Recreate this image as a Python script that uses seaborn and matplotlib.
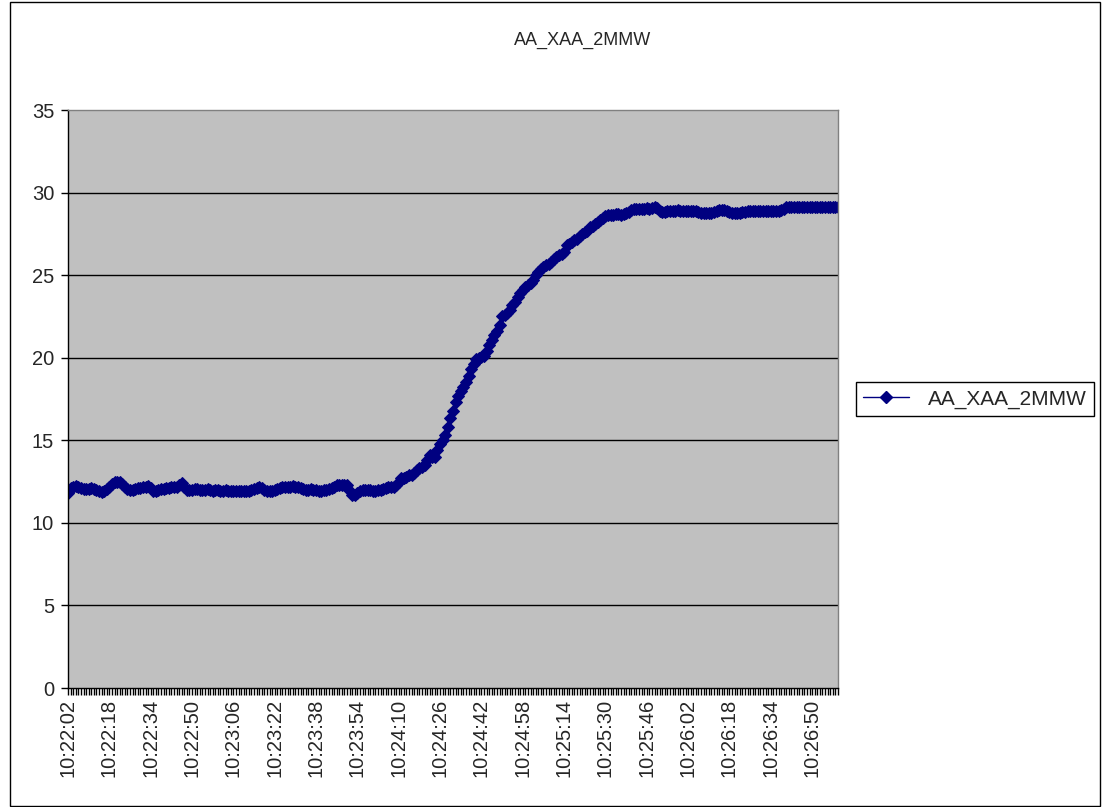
import matplotlib
matplotlib.use("Agg")
import matplotlib.pyplot as plt
from matplotlib.patches import Rectangle
import numpy as np
import pandas as pd
import seaborn as sns

# Series name and sampling
series_name = "AA_XAA_2MMW"
start_time = "10:22:02"
label_step = 16  # one labelled tick every 16 samples

# Readings, one per second (16 samples per row)
values = [
    11.8, 12.1, 12.2, 12.25, 12.2, 12.1, 12.05, 12.05, 12.05, 12.1, 12.05, 12.0, 11.9, 11.85, 11.9, 12.05,
    12.2, 12.35, 12.5, 12.5, 12.45, 12.35, 12.2, 12.05, 12.0, 12.0, 12.05, 12.1, 12.1, 12.15, 12.2, 12.25,
    12.1, 11.95, 11.95, 12.0, 12.05, 12.05, 12.1, 12.1, 12.15, 12.2, 12.2, 12.3, 12.4, 12.2, 12.0, 12.0,
    12.0, 12.05, 12.05, 12.0, 12.0, 12.0, 12.05, 12.0, 11.95, 12.0, 12.0, 11.9, 11.95, 12.0, 11.95, 11.95,
    11.95, 11.9, 11.95, 11.95, 11.95, 11.95, 11.95, 12.0, 12.05, 12.1, 12.15, 12.1, 12.0, 11.95, 11.9, 11.95,
    12.0, 12.05, 12.1, 12.15, 12.2, 12.2, 12.2, 12.25, 12.2, 12.2, 12.1, 12.05, 12.0, 12.0, 12.05, 12.0,
    12.0, 11.95, 11.95, 12.0, 12.0, 12.05, 12.1, 12.2, 12.3, 12.3, 12.3, 12.3, 12.3, 11.9, 11.7, 11.7,
    11.8, 11.9, 12.0, 12.0, 12.0, 12.0, 11.95, 11.95, 12.0, 12.0, 12.05, 12.1, 12.2, 12.2, 12.2, 12.3,
    12.5, 12.7, 12.7, 12.8, 12.9, 12.9, 13.0, 13.2, 13.3, 13.4, 13.5, 13.8, 14.1, 14.0, 14.0, 14.4,
    14.8, 15.0, 15.3, 15.8, 16.35, 16.8, 17.3, 17.7, 18.0, 18.2, 18.5, 18.9, 19.3, 19.6, 19.9, 20.0,
    20.05, 20.1, 20.4, 20.8, 21.1, 21.4, 21.6, 22.0, 22.5, 22.6, 22.7, 22.9, 23.2, 23.4, 23.7, 23.9,
    24.1, 24.3, 24.4, 24.5, 24.7, 25.0, 25.2, 25.4, 25.5, 25.6, 25.7, 25.8, 26.0, 26.1, 26.2, 26.3,
    26.4, 26.8, 26.9, 27.0, 27.1, 27.2, 27.4, 27.5, 27.6, 27.7, 27.9, 28.0, 28.1, 28.2, 28.35, 28.45,
    28.6, 28.65, 28.65, 28.65, 28.7, 28.7, 28.65, 28.7, 28.75, 28.85, 28.95, 29.0, 29.0, 29.0, 29.0, 29.0,
    29.05, 29.0, 29.05, 29.15, 29.05, 28.9, 28.8, 28.85, 28.9, 28.9, 28.9, 28.9, 28.95, 28.9, 28.9, 28.9,
    28.9, 28.9, 28.9, 28.9, 28.85, 28.75, 28.75, 28.75, 28.75, 28.75, 28.8, 28.9, 28.95, 28.95, 28.95, 28.9,
    28.85, 28.75, 28.75, 28.75, 28.75, 28.8, 28.85, 28.9, 28.9, 28.9, 28.9, 28.9, 28.9, 28.9, 28.9, 28.9,
    28.9, 28.9, 28.9, 28.9, 28.95, 29.0, 29.1, 29.1, 29.1, 29.1, 29.1, 29.1, 29.1, 29.1, 29.1, 29.1,
    29.1, 29.1, 29.1, 29.1, 29.1, 29.1, 29.1, 29.1, 29.1, 29.1, 29.1,
]

y_ticks = [0, 5, 10, 15, 20, 25, 30, 35]

times = pd.date_range(pd.Timestamp("2000-01-01 " + start_time), periods=len(values), freq="s")
time_labels = [t.strftime("%H:%M:%S") for t in times]

df = pd.DataFrame({"idx": np.arange(len(values)), "value": values, "series": series_name})

sns.set_style("white")
plt.rcParams["font.family"] = ["Liberation Sans", "DejaVu Sans"]

W, H = 1102, 807
fig = plt.figure(figsize=(W / 100, H / 100), dpi=100)
ax = fig.add_axes([68 / W, 1 - 688 / H, (838 - 68) / W, (688 - 110) / H])
ax.set_facecolor("#C0C0C0")

sns.lineplot(data=df, x="idx", y="value", hue="series", palette=["#000080"],
             marker="D", markersize=6.5, markeredgecolor="#000080", linewidth=1,
             ax=ax, legend=False)

ax.set_xlim(0, len(values) - 1)
ax.set_ylim(0, 35)
ax.set_yticks(y_ticks)
ax.set_yticklabels([str(v) for v in y_ticks], fontsize=14.5)
for v in y_ticks[1:-1]:
    ax.axhline(v, color="#000000", linewidth=1, zorder=0.5)

major = list(range(0, len(values), label_step))
ax.set_xticks(major)
ax.set_xticklabels([time_labels[i] for i in major], rotation=90, fontsize=14.5)
ax.set_xticks(range(len(values)), minor=True)
ax.tick_params(axis="x", which="both", bottom=True, direction="out", length=5,
               width=1, color="#000000", pad=3)
ax.tick_params(axis="y", left=True, direction="out", length=5, width=1,
               color="#000000", pad=5)
ax.set_xlabel("")
ax.set_ylabel("")

for side in ["top", "right"]:
    ax.spines[side].set_color("#808080")
    ax.spines[side].set_linewidth(1)
for side in ["left", "bottom"]:
    ax.spines[side].set_color("#000000")
    ax.spines[side].set_linewidth(1)

fig.text(583 / W, 1 - 40 / H, series_name, ha="center", va="center", fontsize=13)

handle = plt.Line2D([], [], color="#000080", marker="D", markersize=6.5, linewidth=1)
leg = fig.legend([handle], [series_name], loc="center left",
                 bbox_to_anchor=(856 / W, 1 - 399 / H), fontsize=15,
                 frameon=True, fancybox=False, framealpha=1, edgecolor="#000000",
                 handlelength=2.2, handletextpad=0.9, borderpad=0.35,
                 borderaxespad=0)
leg.get_frame().set_linewidth(1)

fig.patches.append(Rectangle((10 / W, 1 / H), (W - 12) / W, (H - 3) / H,
                             transform=fig.transFigure, fill=False,
                             edgecolor="#000000", linewidth=1))

fig.savefig("out.png", dpi=100)
